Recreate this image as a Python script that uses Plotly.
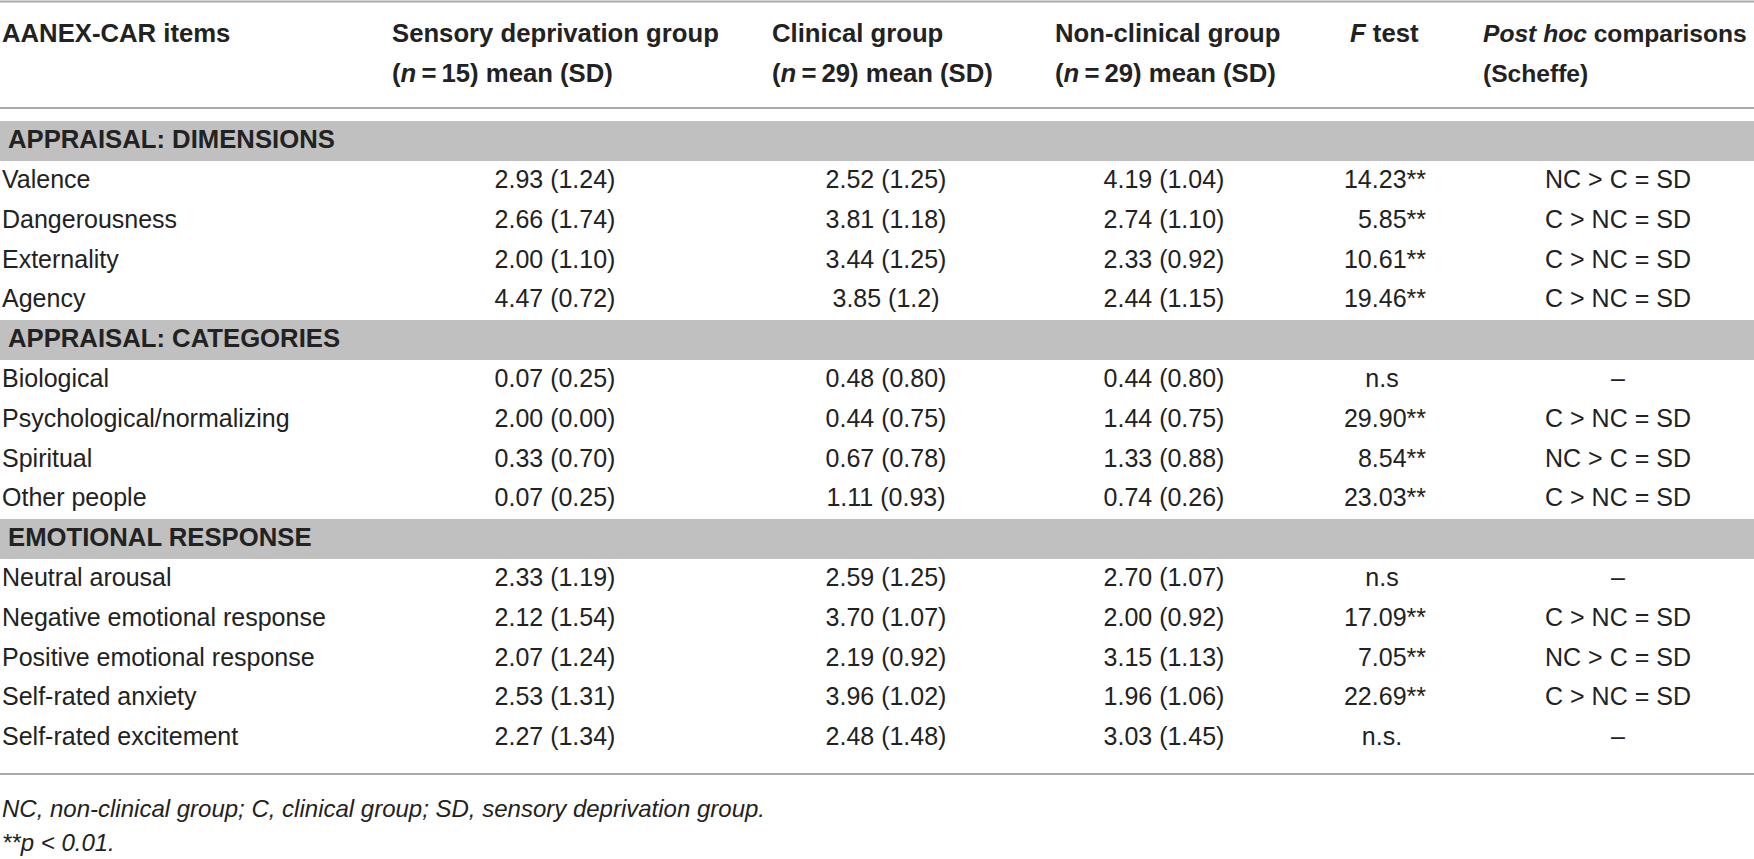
import plotly.graph_objects as go

# ---------------- data ----------------
sections = ["APPRAISAL: DIMENSIONS", "APPRAISAL: CATEGORIES", "EMOTIONAL RESPONSE"]
section_items = [
    ["Valence", "Dangerousness", "Externality", "Agency"],
    ["Biological", "Psychological/normalizing", "Spiritual", "Other people"],
    ["Neutral arousal", "Negative emotional response", "Positive emotional response",
     "Self-rated anxiety", "Self-rated excitement"],
]
group_names = ["Sensory deprivation group", "Clinical group", "Non-clinical group"]
group_n = [15, 29, 29]

sd_mean = ["2.93", "2.66", "2.00", "4.47", "0.07", "2.00", "0.33", "0.07", "2.33", "2.12", "2.07", "2.53", "2.27"]
sd_sd   = ["1.24", "1.74", "1.10", "0.72", "0.25", "0.00", "0.70", "0.25", "1.19", "1.54", "1.24", "1.31", "1.34"]
c_mean  = ["2.52", "3.81", "3.44", "3.85", "0.48", "0.44", "0.67", "1.11", "2.59", "3.70", "2.19", "3.96", "2.48"]
c_sd    = ["1.25", "1.18", "1.25", "1.2",  "0.80", "0.75", "0.78", "0.93", "1.25", "1.07", "0.92", "1.02", "1.48"]
nc_mean = ["4.19", "2.74", "2.33", "2.44", "0.44", "1.44", "1.33", "0.74", "2.70", "2.00", "3.15", "1.96", "3.03"]
nc_sd   = ["1.04", "1.10", "0.92", "1.15", "0.80", "0.75", "0.88", "0.26", "1.07", "0.92", "1.13", "1.06", "1.45"]
f_test  = ["14.23**", "5.85**", "10.61**", "19.46**", "n.s", "29.90**", "8.54**", "23.03**",
           "n.s", "17.09**", "7.05**", "22.69**", "n.s."]
post_hoc = ["NC > C = SD", "C > NC = SD", "C > NC = SD", "C > NC = SD", "–", "C > NC = SD",
            "NC > C = SD", "C > NC = SD", "–", "C > NC = SD", "NC > C = SD", "C > NC = SD", "–"]

header_first = "AANEX-CAR items"
f_header = "<i>F</i> test"
post_header = ["<i>Post hoc</i> comparisons", "(Scheffe)"]
footnotes = ["NC, non-clinical group; C, clinical group; SD, sensory deprivation group.",
             "**<i>p</i> &lt; 0.01."]

# ---------------- layout constants ----------------
W, H = 1754, 859
ROW0_PX, PITCH = 140.0, 39.8          # pixel centre of first band row, row pitch
TEXT_DY = 2.0 / PITCH                  # text sits slightly below row centre


def px2row(p):
    return (p - ROW0_PX) / PITCH


FONT = "Liberation Sans, Arial, sans-serif"
TXT = "#222222"
BODY = 25
HEAD = 25.7
FOOT = 24
LINE_C = "#a9a9a9"
BAND_C = "#c0c0c0"

X_ITEM, X_SECTION = 2, 8
X_HEAD = [2, 392, 772, 1055, 1350, 1483]
X_SD, X_C, X_NC = 555, 886, 1164
X_F_RIGHT, X_F_CENTER = 1426, 1382
X_POST = 1618

# build row indices
band_rows, item_rows, item_labels = [], [], []
r = 0
for s, items in zip(sections, section_items):
    band_rows.append(r)
    r += 1
    for it in items:
        item_rows.append(r)
        item_labels.append(it)
        r += 1

fig = go.Figure()


def text_trace(xs, ys, texts, pos, size=BODY, weight="normal", style="normal"):
    fig.add_trace(go.Scatter(
        x=xs, y=[v + TEXT_DY for v in ys], text=texts, mode="text", textposition=pos,
        textfont=dict(family=FONT, size=size, color=TXT, weight=weight, style=style),
        hoverinfo="skip", showlegend=False, cliponaxis=False))


# gray section bands
for br in band_rows:
    fig.add_shape(type="rect", xref="x", yref="y", x0=0, x1=W,
                  y0=br - 0.48, y1=br + 0.53, fillcolor=BAND_C, line_width=0, layer="below")

# horizontal rules
for p in [1.5, 108.0, 774.0]:
    fig.add_shape(type="line", xref="x", yref="y", x0=0, x1=W,
                  y0=px2row(p), y1=px2row(p), line=dict(color=LINE_C, width=2))

# header
hy1, hy2 = px2row(34), px2row(73.5)
line1 = [header_first] + group_names + [f_header]
line2 = [""] + [f"(<i>n</i>\u2009=\u2009{n}) mean (SD)" for n in group_n] + [""]
text_trace(X_HEAD[:5], [hy1] * 5, line1, "middle right", size=HEAD, weight="bold")
text_trace(X_HEAD[:5], [hy2] * 5, line2, "middle right", size=HEAD, weight="bold")
text_trace([X_HEAD[5]] * 2, [hy1, hy2], post_header, "middle right", size=24.6, weight="bold")

# section labels
text_trace([X_SECTION] * len(sections), band_rows, sections, "middle right", size=HEAD, weight="bold")

# item labels
text_trace([X_ITEM] * len(item_labels), item_rows, item_labels, "middle right")

# group columns
for xc, m, s in [(X_SD, sd_mean, sd_sd), (X_C, c_mean, c_sd), (X_NC, nc_mean, nc_sd)]:
    text_trace([xc] * len(m), item_rows, [f"{a} ({b})" for a, b in zip(m, s)], "middle center")

# F test column
num_idx = [i for i, f in enumerate(f_test) if not f.startswith("n.s")]
ns_idx = [i for i, f in enumerate(f_test) if f.startswith("n.s")]
text_trace([X_F_RIGHT] * len(num_idx), [item_rows[i] for i in num_idx],
           [f_test[i] for i in num_idx], "middle left")
text_trace([X_F_CENTER] * len(ns_idx), [item_rows[i] for i in ns_idx],
           [f_test[i] for i in ns_idx], "middle center")

# post hoc column
text_trace([X_POST] * len(post_hoc), item_rows,
           [p.replace(">", "&gt;") for p in post_hoc], "middle center")

# footnotes
text_trace([X_ITEM] * 2, [px2row(809), px2row(843)], footnotes, "middle right",
           size=FOOT, style="italic")

fig.update_layout(
    width=W, height=H, margin=dict(l=0, r=0, t=0, b=0),
    paper_bgcolor="white", plot_bgcolor="white", showlegend=False, hovermode=False,
    xaxis=dict(range=[0, W], visible=False, fixedrange=True),
    yaxis=dict(range=[px2row(H), px2row(0)], visible=False, fixedrange=True),
)

fig.write_html("out.html", config={"displayModeBar": False, "staticPlot": True},
               post_script="document.body.style.margin='0px';document.body.style.overflow='hidden';")
